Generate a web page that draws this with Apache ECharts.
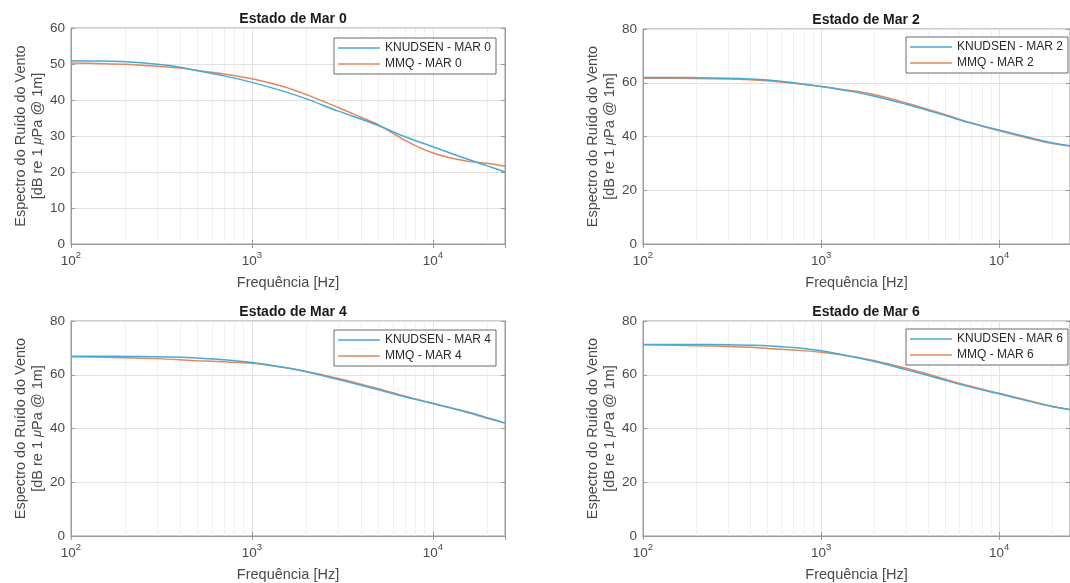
<!DOCTYPE html>
<html>
<head>
<meta charset="utf-8">
<script src="https://cdn.jsdelivr.net/npm/echarts@6/dist/echarts.min.js"></script>
<style>
  html, body { margin: 0; padding: 0; background: #fff; }
  #main { width: 1070px; height: 583px; }
</style>
</head>
<body>
<div id="main"></div>
<script>
// frequencias (Hz)
const freq = [100, 150, 200, 300, 400, 500, 700, 1000, 1500, 2000, 3000, 4000, 5000, 7000, 10000, 15000, 20000, 25000];

const knudsen0 = [50.9, 50.8, 50.6, 49.9, 49.1, 48.1, 46.7, 44.9, 42.4, 40.3, 36.9, 34.7, 32.9, 29.8, 27.0, 23.8, 21.7, 20.0];
const mmq0     = [50.3, 50.1, 49.9, 49.4, 48.9, 48.2, 47.2, 45.9, 43.7, 41.5, 37.9, 35.2, 33.1, 28.8, 25.3, 23.1, 22.4, 21.6];
const knudsen2 = [62.0, 62.0, 61.9, 61.7, 61.4, 61.0, 60.0, 58.6, 56.7, 55.0, 52.0, 49.7, 47.8, 44.9, 42.4, 39.5, 37.6, 36.6];
const mmq2     = [61.7, 61.7, 61.6, 61.4, 61.1, 60.7, 59.8, 58.6, 57.0, 55.5, 52.5, 50.1, 48.1, 45.0, 42.1, 39.2, 37.4, 36.5];
const knudsen4 = [66.9, 66.9, 66.8, 66.7, 66.5, 66.2, 65.6, 64.6, 62.8, 61.1, 58.2, 56.1, 54.4, 51.8, 49.3, 46.4, 44.0, 42.0];
const mmq4     = [66.7, 66.5, 66.3, 66.0, 65.6, 65.2, 64.8, 64.3, 62.7, 61.2, 58.6, 56.5, 54.8, 52.0, 49.3, 46.2, 43.8, 42.0];
const knudsen6 = [71.3, 71.3, 71.3, 71.2, 71.0, 70.8, 70.1, 68.9, 66.7, 64.9, 61.9, 59.7, 57.9, 55.3, 52.9, 50.0, 48.1, 47.0];
const mmq6     = [71.2, 71.0, 70.8, 70.5, 70.2, 69.8, 69.2, 68.4, 66.8, 65.2, 62.4, 60.2, 58.3, 55.6, 53.1, 50.2, 48.2, 47.1];

const estados = [0, 2, 4, 6];
const knudsenAll = [knudsen0, knudsen2, knudsen4, knudsen6];
const mmqAll = [mmq0, mmq2, mmq4, mmq6];
const yMaxAll = [60, 80, 80, 80];
const yStepAll = [10, 20, 20, 20];

// grade menor do eixo log
const minorTicks = [200, 300, 400, 500, 600, 700, 800, 900,
  2000, 3000, 4000, 5000, 6000, 7000, 8000, 9000, 20000];

const xMin = 100, xMax = 25000;

// posicoes dos paineis
const grids = [
  { left: 71, top: 28, width: 434, height: 216 },
  { left: 643, top: 29, width: 436, height: 215 },
  { left: 71, top: 321, width: 434, height: 215 },
  { left: 643, top: 321, width: 436, height: 215 }
];
const legendPos = [
  { left: 334, top: 38 },
  { left: 906, top: 37 },
  { left: 334, top: 330 },
  { left: 906, top: 329 }
];

const blue = '#47a9d8';
const orange = '#e2875c';
const txt = '#4a4a4a';
const axisCol = '#9a9a9a';
const font = 'Liberation Sans';

function pairs(vals) {
  return freq.map((f, i) => [f, vals[i]]);
}

function xLabel(v) {
  const e = Math.round(Math.log10(v));
  if (Math.abs(Math.pow(10, e) - v) > 1e-6 * v) return '';
  return '{b|10}{s|' + e + '}';
}

let myChart = echarts.init(document.getElementById('main'));

let title = [], xAxis = [], yAxis = [], series = [], legend = [];

grids.forEach((g, k) => {
  title.push({
    text: 'Estado de Mar ' + estados[k],
    left: g.left + g.width / 2,
    top: g.top - 21,
    textAlign: 'center',
    textStyle: { fontFamily: font, fontSize: 14, fontWeight: 'bold', color: '#1a1a1a' }
  });

  // eixo inferior
  xAxis.push({
    type: 'log', logBase: 10, gridIndex: k, min: xMin, max: xMax, interval: 1,
    name: 'Frequência [Hz]', nameLocation: 'middle', nameGap: 31,
    nameTextStyle: { fontFamily: font, fontSize: 14.5, color: txt },
    axisLine: { show: true, lineStyle: { color: axisCol } },
    axisTick: { show: true, inside: true, length: 4, lineStyle: { color: axisCol } },
    axisLabel: {
      formatter: xLabel, showMaxLabel: false, margin: 6,
      rich: {
        b: { fontFamily: font, fontSize: 13.5, color: txt, verticalAlign: 'bottom', lineHeight: 18 },
        s: { fontFamily: font, fontSize: 9.5, color: txt, verticalAlign: 'top', lineHeight: 10 }
      }
    },
    splitLine: { show: true, lineStyle: { color: '#e2e2e2' } }
  });
  // eixo superior (so marcas)
  xAxis.push({
    type: 'log', logBase: 10, gridIndex: k, min: xMin, max: xMax, interval: 1, position: 'top',
    axisLine: { show: true, lineStyle: { color: axisCol } },
    axisTick: { show: true, inside: true, length: 4, lineStyle: { color: axisCol } },
    axisLabel: { show: false },
    splitLine: { show: false }
  });

  yAxis.push({
    type: 'value', gridIndex: k, min: 0, max: yMaxAll[k], interval: yStepAll[k],
    name: 'Espectro do Ruído do Vento\n[dB re 1 {mu|μ}Pa @ 1m]',
    nameLocation: 'middle', nameGap: 25,
    nameTextStyle: {
      fontFamily: font, fontSize: 14.5, color: txt, lineHeight: 17, align: 'center',
      rich: { mu: { fontFamily: font, fontSize: 13, fontStyle: 'italic', color: txt } }
    },
    axisLine: { show: true, lineStyle: { color: axisCol } },
    axisTick: { show: true, inside: true, length: 4, lineStyle: { color: axisCol } },
    axisLabel: { fontFamily: font, fontSize: 13.5, color: txt, margin: 6 },
    splitLine: { show: true, lineStyle: { color: '#e2e2e2' } }
  });
  yAxis.push({
    type: 'value', gridIndex: k, min: 0, max: yMaxAll[k], interval: yStepAll[k], position: 'right',
    axisLine: { show: true, lineStyle: { color: axisCol } },
    axisTick: { show: true, inside: true, length: 4, lineStyle: { color: axisCol } },
    axisLabel: { show: false },
    splitLine: { show: false }
  });

  const nK = 'KNUDSEN - MAR ' + estados[k];
  const nM = 'MMQ - MAR ' + estados[k];

  series.push({
    name: nK, type: 'line', xAxisIndex: 2 * k, yAxisIndex: 2 * k,
    data: pairs(knudsenAll[k]), smooth: 0.3, showSymbol: false,
    lineStyle: { color: blue, width: 1.5 }, itemStyle: { color: blue },
    markLine: {
      silent: true, symbol: 'none', label: { show: false }, z: 1,
      lineStyle: { color: '#e3e3e3', type: [1, 1], width: 1 },
      data: minorTicks.map(v => ({ xAxis: v }))
    },
    z: 3
  });
  series.push({
    name: nM, type: 'line', xAxisIndex: 2 * k, yAxisIndex: 2 * k,
    data: pairs(mmqAll[k]), smooth: 0.3, showSymbol: false,
    lineStyle: { color: orange, width: 1.5 }, itemStyle: { color: orange },
    z: 2
  });

  legend.push({
    data: [nK, nM],
    left: legendPos[k].left, top: legendPos[k].top,
    orient: 'vertical',
    icon: 'rect', itemWidth: 42, itemHeight: 1.5, itemGap: 4,
    padding: [4, 5, 4, 4],
    backgroundColor: '#fff', borderColor: '#6a6a6a', borderWidth: 1, borderRadius: 0,
    textStyle: { fontFamily: font, fontSize: 12, color: '#2a2a2a' }
  });
});

let option = {
  backgroundColor: '#fff',
  animation: false,
  title: title,
  legend: legend,
  grid: grids.map(g => Object.assign({ show: true, borderColor: axisCol, borderWidth: 1, backgroundColor: '#fff' }, g)),
  xAxis: xAxis,
  yAxis: yAxis,
  series: series
};

option && myChart.setOption(option);
</script>
</body>
</html>
